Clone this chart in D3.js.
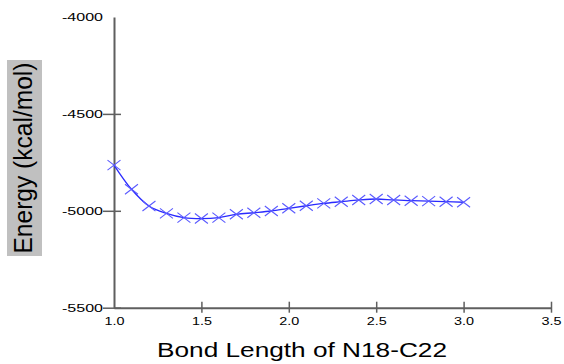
<!DOCTYPE html>
<html><head><meta charset="utf-8">
<script src="https://cdn.jsdelivr.net/npm/d3@7"></script>
<style>html,body{margin:0;padding:0;background:#fff;}svg{display:block;}</style>
</head><body>
<svg id="chart" width="564" height="364"></svg>
<script>
const bondLength = [1.0, 1.1, 1.2, 1.3, 1.4, 1.5, 1.6, 1.7, 1.8, 1.9, 2.0, 2.1, 2.2, 2.3, 2.4, 2.5, 2.6, 2.7, 2.8, 2.9, 3.0];
const energy = [-4764, -4889, -4975, -5013, -5035, -5040, -5035, -5018, -5010, -5001, -4987, -4974, -4962, -4953, -4944, -4939, -4944, -4948, -4950, -4953, -4956];
const xTicks = [1.0, 1.5, 2.0, 2.5, 3.0, 3.5];
const yTicks = [-4000, -4500, -5000, -5500];
const xTitle = "Bond Length of N18-C22";
const yTitle = "Energy (kcal/mol)";

const svg = d3.select("#chart");
const x = d3.scaleLinear().domain([1.0, 3.5]).range([114, 551]);
const y = d3.scaleLinear().domain([-5500, -4000]).range([307.7, 17]);
const axisColor = "#5f5f5f";
const font = "'Liberation Sans', Arial, sans-serif";

// Y axis
const yAxis = d3.axisLeft(y).tickValues(yTicks).tickSize(0).tickPadding(11).tickFormat(d => String(d));
const gy = svg.append("g").attr("transform", "translate(114,0)").call(yAxis);
gy.select(".domain").attr("stroke", axisColor).attr("stroke-width", 2);
gy.selectAll(".tick").each(function(d){
  const t = d3.select(this);
  if (d !== -4000) t.append("line").attr("x1", -11).attr("x2", 7).attr("stroke", axisColor).attr("stroke-width", 1.5);
});
gy.selectAll(".tick text").attr("font-family", font).attr("font-size", 10.5).attr("fill", "#000")
  .attr("textLength", 41).attr("lengthAdjust", "spacingAndGlyphs").attr("dy", "0.35em");

// X axis
const xAxis = d3.axisBottom(x).tickValues(xTicks).tickSize(0).tickPadding(11).tickFormat(d => d.toFixed(1));
const gx = svg.append("g").attr("transform", "translate(0,307.7)").call(xAxis);
gx.select(".domain").attr("stroke", axisColor).attr("stroke-width", 2);
gx.selectAll(".tick").each(function(d){
  if (d !== 1.0) d3.select(this).append("line").attr("y1", -6).attr("y2", 5).attr("stroke", axisColor).attr("stroke-width", 1.5);
});
gx.selectAll(".tick text").attr("font-family", font).attr("font-size", 11.5).attr("fill", "#000")
  .attr("textLength", 20).attr("lengthAdjust", "spacingAndGlyphs").attr("dy", "0.35em");
gx.selectAll(".tick text").attr("y", 13);

// Curve
const pts = bondLength.map((b, i) => [b, energy[i]]);
const line = d3.line().x(d => x(d[0])).y(d => y(d[1])).curve(d3.curveCatmullRom);
svg.append("path").datum(pts).attr("d", line).attr("fill", "none").attr("stroke", "#2a2aff").attr("stroke-width", 1.3);

// X markers
const mk = svg.append("g").attr("stroke", "#5a5aff").attr("stroke-width", 1.1).attr("fill", "none");
mk.selectAll("path").data(pts).join("path")
  .attr("d", d => { const cx = x(d[0]), cy = y(d[1]), w = 6.5, h = 5;
    return `M${cx-w},${cy-h}L${cx+w},${cy+h}M${cx-w},${cy+h}L${cx+w},${cy-h}`; });

// X title
svg.append("text").attr("x", 302).attr("y", 357).attr("text-anchor", "middle")
  .attr("font-family", font).attr("font-size", 20).attr("fill", "#000")
  .attr("textLength", 290).attr("lengthAdjust", "spacingAndGlyphs").text(xTitle);

// Y title with grey box
svg.append("rect").attr("x", 7).attr("y", 60).attr("width", 35).attr("height", 196).attr("fill", "#c0c0c0");
svg.append("text").attr("transform", "translate(32,158) rotate(-90)").attr("text-anchor", "middle")
  .attr("font-family", font).attr("font-size", 25).attr("fill", "#000")
  .attr("textLength", 191).attr("lengthAdjust", "spacingAndGlyphs").text(yTitle);
</script>
</body></html>
